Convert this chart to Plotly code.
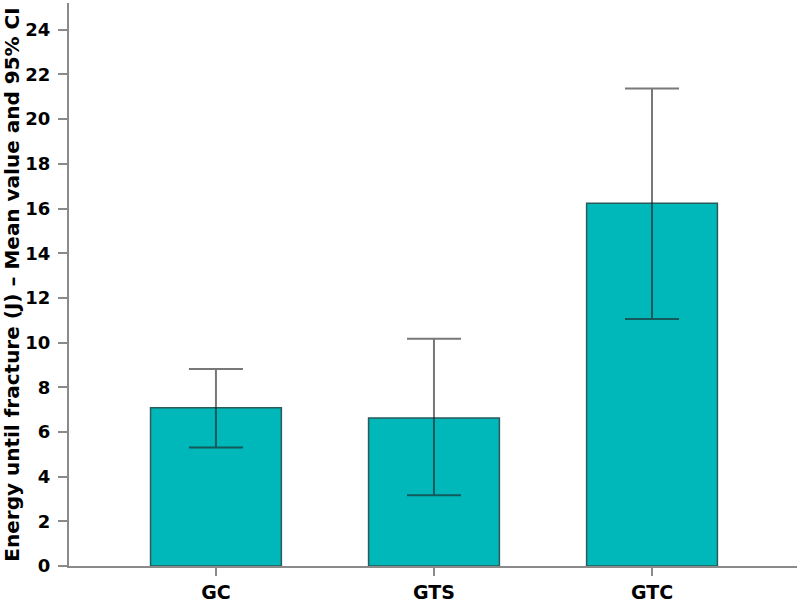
import plotly.graph_objects as go

groups = ["GC", "GTS", "GTC"]
means = [7.08, 6.63, 16.24]
ci_upper = [8.82, 10.17, 21.37]
ci_lower = [5.30, 3.17, 11.06]
y_ticks = [0, 2, 4, 6, 8, 10, 12, 14, 16, 18, 20, 22, 24]

err_plus = [u - m for u, m in zip(ci_upper, means)]
err_minus = [m - l for m, l in zip(means, ci_lower)]

FONT = "DejaVu Sans, Arial, sans-serif"

fig = go.Figure()
fig.add_trace(go.Bar(
    x=groups, y=means, width=0.6,
    marker=dict(color="#00b7b9", line=dict(color="#2b5a5a", width=1.5)),
    error_y=dict(type="data", symmetric=False, array=err_plus, arrayminus=err_minus,
                 color="rgba(30,30,30,0.6)", thickness=2, width=27),
))

fig.update_layout(
    width=800, height=606,
    margin=dict(l=69, r=3, t=3, b=40),
    plot_bgcolor="white", paper_bgcolor="white",
    showlegend=False,
    font=dict(family=FONT, color="black"),
)
fig.update_xaxes(
    range=[-0.674, 2.665], automargin=False,
    showline=True, linecolor="#8a8a8a", linewidth=2,
    ticks="outside", ticklen=8, tickcolor="#8a8a8a", tickwidth=2,
    tickfont=dict(size=19, family=FONT),
    tickvals=groups, ticktext=[f"<b>{g}</b>" for g in groups],
    ticklabelstandoff=0,
    showgrid=False,
)
fig.update_yaxes(
    range=[0, 25.2], automargin=False,
    showline=True, linecolor="#8a8a8a", linewidth=2,
    ticks="outside", ticklen=9, tickcolor="#8a8a8a", tickwidth=2,
    tickvals=y_ticks, ticktext=[f"<b>{t}</b>" for t in y_ticks],
    tickfont=dict(size=18, family=FONT),
    ticklabelstandoff=4,
    showgrid=False, zeroline=False,
    title=dict(text="<b>Energy until fracture (J) – Mean value and 95% CI</b>",
               font=dict(size=20, family=FONT), standoff=4),
)

# page body has a default 8px margin; drop it so the figure sits at the window corner
fig.write_html("out.html", config={"displayModeBar": False},
               post_script="document.body.style.margin='0';")
